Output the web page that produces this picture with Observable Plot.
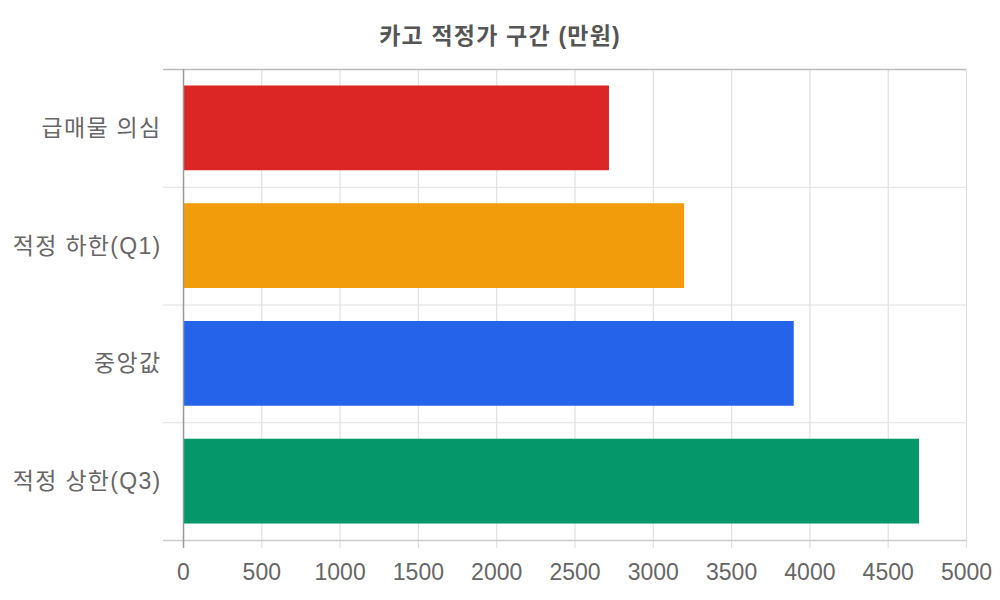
<!DOCTYPE html>
<html>
<head>
<meta charset="utf-8">
<script src="https://cdn.jsdelivr.net/npm/d3@7"></script>
<script src="https://cdn.jsdelivr.net/npm/@observablehq/plot@0.6"></script>
<style>
  body { margin: 0; background: #fff; font-family: "Liberation Sans", "Noto Sans CJK KR", sans-serif; }
  #title { height: 60px; padding-top: 8px; box-sizing: border-box; display: flex; align-items: center; justify-content: center;
    font-size: 23px; font-weight: bold; color: #555; width: 1000px; letter-spacing: 1.2px; }
  .ylab text { letter-spacing: 1.3px; }
</style>
</head>
<body>
<div id="title">카고 적정가 구간 (만원)</div>
<div id="chart"></div>
<script>
const categories = ["급매물 의심", "적정 하한(Q1)", "중앙값", "적정 상한(Q3)"];
const values = [2720, 3200, 3900, 4700];
const colors = ["#dc2626", "#f39c0b", "#2563eb", "#059669"];
const xTicks = [0, 500, 1000, 1500, 2000, 2500, 3000, 3500, 4000, 4500, 5000];

const data = categories.map((c, i) => ({category: c, value: values[i], color: colors[i], idx: i}));
const bandEdges = d3.range(categories.length + 1);
const pad = 0.14;

const chart = Plot.plot({
  width: 1000,
  height: 540,
  marginTop: 9,
  marginBottom: 60,
  marginLeft: 183,
  marginRight: 34,
  style: {fontFamily: '"Liberation Sans", "Noto Sans CJK KR", sans-serif', fontSize: "23px", color: "#666", background: "#fff"},
  x: {domain: [0, 5000], label: null},
  y: {domain: [categories.length, 0], label: null},
  marks: [
    Plot.ruleX(xTicks.filter(t => t > 0), {x: d => d, stroke: "#e0e0e0", strokeWidth: 1.2, insetBottom: -8}),
    Plot.ruleY(bandEdges.filter(e => e > 0 && e < categories.length), {y: d => d, stroke: "#e0e0e0", strokeWidth: 1.2, insetLeft: -20}),
    Plot.ruleY([0], {stroke: "#bbb", strokeWidth: 1.5, insetLeft: -20}),
    Plot.ruleY([categories.length], {stroke: "#ccc", strokeWidth: 1.5, insetLeft: -20}),
    Plot.rectX(data, {x1: 0, x2: "value", y1: d => d.idx + pad, y2: d => d.idx + 1 - pad, fill: "color"}),
    Plot.ruleX([0], {stroke: "#999", strokeWidth: 1.5, insetBottom: -8}),
    Plot.axisX({ticks: xTicks, tickSize: 0, tickPadding: 23, tickFormat: d => String(d), fill: "#666", fontSize: 23}),
    Plot.axisY({ticks: categories.map((c, i) => i + 0.5), tickFormat: v => categories[Math.floor(v)], tickSize: 0, tickPadding: 22, fill: "#666", fontSize: 23, className: "ylab"})
  ]
});
document.getElementById("chart").appendChild(chart);
</script>
</body>
</html>
